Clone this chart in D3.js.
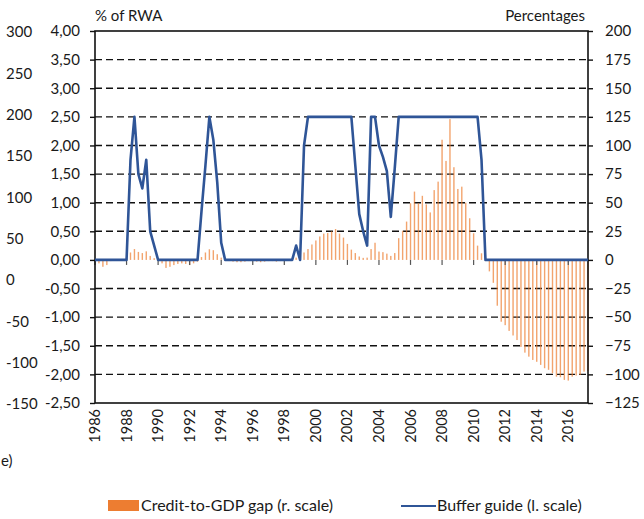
<!DOCTYPE html>
<html>
<head>
<meta charset="utf-8">
<script src="https://cdn.jsdelivr.net/npm/d3@7"></script>
<style>
  body { margin: 0; background: #fff; }
  text { font-family: Lato, "Open Sans", sans-serif; fill: #1a1a1a; }
</style>
</head>
<body>
<svg id="chart" width="644" height="519"></svg>
<script>
// quarterly categories, 1986Q1 .. 2017Q2
const firstYear = 1986;
const quarters = d3.range(126).map(i => `${firstYear + Math.floor(i / 4)}Q${i % 4 + 1}`);

// credit-to-GDP gap, percentages (right scale)
const creditGap = [
  -1, -3, -6, -4.5, -1, -0.5, 0, 0,
  2, 6.5, 9.5, 7, 6, 7.5, 3.5, 1.5,
  -0.5, -3, -7, -6, -4.5, -3.5, -3, -3.5,
  -4.5, -3, -1.5, 2.5, 6.5, 9.3, 8.5, 5,
  2, 0, -1, -1.5, -2, -2, -1.5, -1,
  -1, -1.5, -2, -1.5, -1, -1, -1.5, -1,
  -0.5, -0.5, 0.5, 2, 3.5, 6.5, 9.5, 13.5,
  17, 20.5, 23, 23.5, 25, 27, 23, 19.5,
  14, 9, 6, 3, 1.8, 2, 9.5, 15,
  7.3, 6.8, 5.5, 3.5, 6, 19, 25.5, 33.5,
  49.5, 59.7, 49.5, 56, 48.5, 41.5, 61, 68.4,
  105, 86.5, 123, 81, 62, 64, 50, 36.4,
  23.3, 12.5, 5.8, -1, -10, -20, -40, -54,
  -57, -62, -66, -70, -76, -81, -84.5, -87.4,
  -89, -91.7, -94.6, -96, -99, -102, -102.5, -104.8,
  -105.4, -102, -101, -100.5, -97.6, -97
];

// buffer guide, % of RWA (left scale)
const bufferGuide = [
  0, 0, 0, 0, 0, 0, 0, 0,
  0, 1.75, 2.5, 1.5, 1.25, 1.75, 0.5, 0.25,
  0, 0, 0, 0, 0, 0, 0, 0,
  0, 0, 0, 0.85, 1.65, 2.5, 2.1, 1.35,
  0.3, 0, 0, 0, 0, 0, 0, 0,
  0, 0, 0, 0, 0, 0, 0, 0,
  0, 0, 0, 0.25, 0, 2.0, 2.5, 2.5,
  2.5, 2.5, 2.5, 2.5, 2.5, 2.5, 2.5, 2.5,
  2.5, 2.5, 1.65, 0.8, 0.5, 0.25, 2.5, 2.5,
  2.0, 1.8, 1.55, 0.75, 1.6, 2.5, 2.5, 2.5,
  2.5, 2.5, 2.5, 2.5, 2.5, 2.5, 2.5, 2.5,
  2.5, 2.5, 2.5, 2.5, 2.5, 2.5, 2.5, 2.5,
  2.5, 2.5, 1.75, 0, 0, 0, 0, 0,
  0, 0, 0, 0, 0, 0, 0, 0,
  0, 0, 0, 0, 0, 0, 0, 0,
  0, 0, 0, 0, 0, 0
];

const leftTicks = [-2.5, -2, -1.5, -1, -0.5, 0, 0.5, 1, 1.5, 2, 2.5, 3, 3.5, 4];
const rightTicks = [-125, -100, -75, -50, -25, 0, 25, 50, 75, 100, 125, 150, 175, 200];
const outerTicks = [-150, -100, -50, 0, 50, 100, 150, 200, 250, 300];
const yearLabels = d3.range(1986, 2017, 2).map(String);

const blue = "#2f5597";
const orange = "#ed7d31";

const svg = d3.select("#chart");
const plot = { left: 95, right: 588, top: 31, bottom: 403 };

const x = d3.scalePoint().domain(quarters).range([plot.left, plot.right]);
const yL = d3.scaleLinear().domain([-2.5, 4]).range([plot.bottom, plot.top]);
const yR = d3.scaleLinear().domain([-125, 200]).range([plot.bottom, plot.top]);
const yOuter = d3.scaleLinear().domain([-150, 300]).range([plot.bottom + 1, plot.top + 1]);

// dashed gridlines
svg.append("g")
  .selectAll("line")
  .data(leftTicks.filter(d => d !== 0 && d !== -2.5 && d !== 4))
  .join("line")
    .attr("x1", plot.left).attr("x2", plot.right)
    .attr("y1", d => yL(d)).attr("y2", d => yL(d))
    .attr("stroke", "#111")
    .attr("stroke-width", 1.4)
    .attr("stroke-dasharray", "7,4");

// bars (credit gap)
svg.append("g")
  .selectAll("rect")
  .data(quarters)
  .join("rect")
    .attr("x", q => x(q) - 0.7)
    .attr("width", 1.4)
    .attr("y", (q, i) => yR(Math.max(0, creditGap[i])))
    .attr("height", (q, i) => Math.abs(yR(creditGap[i]) - yR(0)))
    .attr("fill", orange)
    .attr("opacity", 0.7);

// x ticks on zero line
svg.append("g")
  .selectAll("line")
  .data(yearLabels)
  .join("line")
    .attr("x1", d => x(d + "Q1")).attr("x2", d => x(d + "Q1"))
    .attr("y1", yL(0)).attr("y2", yL(0) + 5)
    .attr("stroke", "#555")
    .attr("stroke-width", 1.2);

// frame
svg.append("rect")
  .attr("x", plot.left).attr("y", plot.top)
  .attr("width", plot.right - plot.left).attr("height", plot.bottom - plot.top)
  .attr("fill", "none")
  .attr("stroke", "#111")
  .attr("stroke-width", 1.6);

// buffer guide line
svg.append("path")
  .datum(quarters)
  .attr("fill", "none")
  .attr("stroke", blue)
  .attr("stroke-width", 2.6)
  .attr("stroke-linejoin", "round")
  .attr("d", d3.line().x(q => x(q)).y((q, i) => yL(bufferGuide[i])));

// left axis
const gL = svg.append("g")
  .attr("transform", `translate(${plot.left},0)`)
  .call(d3.axisLeft(yL).tickValues(leftTicks).tickSize(5).tickPadding(10)
    .tickFormat(d => d.toFixed(2).replace(".", ",")));
gL.select(".domain").remove();

// right axis
const gR = svg.append("g")
  .attr("transform", `translate(${plot.right},0)`)
  .call(d3.axisRight(yR).tickValues(rightTicks).tickSize(5).tickPadding(12));
gR.select(".domain").remove();

[gL, gR].forEach(g => {
  g.selectAll(".tick line").attr("stroke", "#111").attr("stroke-width", 1.4);
  g.selectAll("text").style("font-size", "15px").attr("fill", "#1a1a1a");
});

// outer left labels
svg.append("g")
  .selectAll("text")
  .data(outerTicks)
  .join("text")
    .attr("x", 6)
    .attr("y", d => yOuter(d))
    .attr("dy", "0.35em")
    .style("font-size", "15px")
    .text(d => d);

// year labels, rotated
svg.append("g")
  .selectAll("text")
  .data(yearLabels)
  .join("text")
    .attr("transform", d => `translate(${x(d + "Q1")},409) rotate(-90)`)
    .attr("text-anchor", "end")
    .attr("dy", "0.35em")
    .style("font-size", "14.5px")
    .text(d => d);

// axis titles
svg.append("text").attr("x", plot.left).attr("y", 21).style("font-size", "15px").text("% of RWA");
svg.append("text").attr("x", 585).attr("y", 21).attr("text-anchor", "end")
  .style("font-size", "15px").text("Percentages");

// note fragment at left edge
svg.append("text").attr("x", 1).attr("y", 466)
  .style("font-size", "15px").text("e)");

// legend
const lg = svg.append("g").style("font-size", "16px");
lg.append("rect").attr("x", 108).attr("y", 500).attr("width", 31).attr("height", 11).attr("fill", orange);
lg.append("text").attr("x", 141).attr("y", 511).text("Credit-to-GDP gap (r. scale)");
lg.append("line").attr("x1", 401).attr("x2", 436).attr("y1", 506).attr("y2", 506)
  .attr("stroke", blue).attr("stroke-width", 2);
lg.append("text").attr("x", 437).attr("y", 511).text("Buffer guide (l. scale)");
</script>
</body>
</html>
